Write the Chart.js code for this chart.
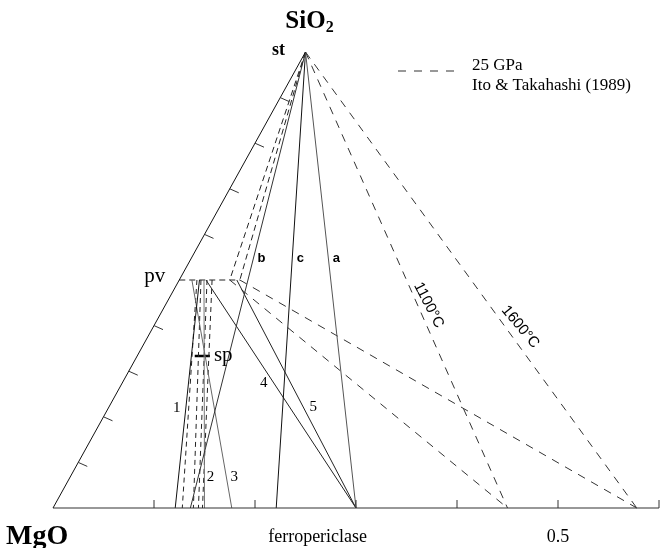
<!DOCTYPE html>
<html><head><meta charset="utf-8">
<script src="https://cdn.jsdelivr.net/npm/chart.js@4/dist/chart.umd.min.js"></script>
<style>html,body{margin:0;padding:0;background:#fff;}#wrap{width:661px;height:548px;}</style>
</head><body><div id="wrap"><canvas id="c" width="661" height="548"></canvas></div>
<script>
// Compositions are [FeO fraction, SiO2 fraction] in the MgO-FeO-SiO2 system
const stSiO2 = 1;
const pvSiO2 = 0.5;
const pvFeORange = [0, 0.06];
const stTieNames = ['a', 'b', 'c'];
const stTieFpFeO = [0.300, 0.136, 0.221];
const runNames = ['1', '2', '3', '4', '5'];
const runPvFeO = [0.020, 0.0245, 0.0125, 0.0265, 0.057];
const runFpFeO = [0.121, 0.150, 0.177, 0.300, 0.300];
const gpa25PvFeO = [0.0175, 0.0215, 0.0275, 0.0325];
const gpa25FpFeO = [0.128, 0.139, 0.144, 0.148];
const isoNames = ['1100°C', '1600°C'];
const isoPvFeO = [0.050, 0.060];
const isoFpFeO = [0.450, 0.578];
const spSiO2 = 1 / 3;
const spFeORange = [0.057, 0.072];
const baseTicks = [0.1, 0.2, 0.3, 0.4, 0.5, 0.6];
const sideTicks = [0.1, 0.2, 0.3, 0.4, 0.6, 0.7, 0.8, 0.9];
const baseLabelValues = [0.5];
const baseLabelTexts = ['0.5'];
const legendTexts = ['25 GPa', 'Ito & Takahashi (1989)'];

// ---- geometry helpers (cartesian = FeO + 0.25*SiO2, SiO2) ----
const toXY = (f, s) => ({ x: f + 0.25 * s, y: s });
function seg(p, q, color, width, dash) {
  return { data: [toXY(p[0], p[1]), toXY(q[0], q[1])], showLine: true, borderColor: color,
    borderWidth: width, borderDash: dash || [], pointRadius: 0, fill: false, tension: 0 };
}
const datasets = [];
datasets.push(seg([0, 0], [0, stSiO2], '#111', 1));
datasets.push(seg([0, 0], [baseTicks[baseTicks.length - 1], 0], '#333', 1.2));
const stColors = ['#555', '#333', '#111'];
stTieFpFeO.forEach((fp, i) => datasets.push(seg([0, stSiO2], [fp, 0], stColors[i], 1)));
const runColors = ['#111', '#777', '#666', '#222', '#222'];
runPvFeO.forEach((pv, i) => datasets.push(seg([pv, pvSiO2], [runFpFeO[i], 0], runColors[i], 1)));
gpa25PvFeO.forEach((pv, i) => datasets.push(seg([pv, pvSiO2], [gpa25FpFeO[i], 0], '#222', 1, [5, 4])));
isoPvFeO.forEach((pv, i) => {
  datasets.push(seg([0, stSiO2], [isoFpFeO[i], 0], '#333', 1, [8, 7]));
  datasets.push(seg([pv, pvSiO2], [isoFpFeO[i], 0], '#333', 1, [8, 7]));
  datasets.push(seg([0, stSiO2], [pv, pvSiO2], '#222', 1, [6, 4]));
});
datasets.push(seg([pvFeORange[0], pvSiO2], [pvFeORange[1], pvSiO2], '#222', 1, [6, 4]));
datasets.push(seg([spFeORange[0], spSiO2], [spFeORange[1], spSiO2], '#000', 2.5));

const SERIF = '"Liberation Serif", "Times New Roman", serif';
const SANS = '"Liberation Sans", Arial, sans-serif';

const decor = {
  id: 'decor',
  afterDatasetsDraw(chart) {
    const ctx = chart.ctx, xs = chart.scales.x, ys = chart.scales.y;
    const P = (f, s) => [xs.getPixelForValue(f + 0.25 * s), ys.getPixelForValue(s)];
    const onLine = (a, b, s) => { const t = (s - a[1]) / (b[1] - a[1]); return P(a[0] + t * (b[0] - a[0]), s); };
    ctx.save();
    // ticks
    ctx.strokeStyle = '#333'; ctx.lineWidth = 1;
    baseTicks.forEach(v => { const [x, y] = P(v, 0); ctx.beginPath(); ctx.moveTo(x, y); ctx.lineTo(x, y - 8); ctx.stroke(); });
    sideTicks.forEach(s => { const [x, y] = P(0, s); ctx.beginPath(); ctx.moveTo(x, y); ctx.lineTo(x + 9, y + 4); ctx.stroke(); });
    ctx.fillStyle = '#000';
    ctx.textBaseline = 'middle';
    // SiO2 apex title
    const [ax, ay] = P(0, stSiO2);
    ctx.font = 'bold 25px ' + SERIF;
    const w1 = ctx.measureText('SiO').width;
    ctx.font = 'bold 16px ' + SERIF;
    const w2 = ctx.measureText('2').width;
    const x0 = ax + 4 - (w1 + w2) / 2;
    ctx.textAlign = 'left';
    ctx.font = 'bold 25px ' + SERIF; ctx.fillText('SiO', x0, ay - 30);
    ctx.font = 'bold 16px ' + SERIF; ctx.fillText('2', x0 + w1, ay - 24);
    ctx.font = 'bold 18px ' + SERIF; ctx.textAlign = 'center'; ctx.fillText('st', ax - 27, ay - 2);
    // MgO corner and base labels
    const [mx, my] = P(0, 0);
    ctx.font = 'bold 28px ' + SERIF; ctx.textAlign = 'left'; ctx.fillText('MgO', mx - 47, my + 29);
    ctx.font = '18px ' + SERIF; ctx.textAlign = 'center';
    ctx.fillText('ferropericlase', P(0.262, 0)[0], my + 29);
    baseLabelValues.forEach((v, i) => ctx.fillText(baseLabelTexts[i], P(v, 0)[0], my + 29));
    // pv, sp
    const [px, py] = P(0, pvSiO2);
    ctx.font = '21px ' + SERIF; ctx.textAlign = 'right'; ctx.fillText('pv', px - 14, py - 4);
    const [sx, sy] = P(spFeORange[1], spSiO2);
    ctx.textAlign = 'left'; ctx.fillText('sp', sx + 4, sy - 1);
    // a, b, c labels
    ctx.font = 'bold 13px ' + SANS; ctx.textAlign = 'center';
    stTieFpFeO.forEach((fp, i) => { const [x, y] = onLine([0, stSiO2], [fp, 0], 0.548); ctx.fillText(stTieNames[i], x + 8, y); });
    // run numbers
    const runLabelS = [0.219, 0.068, 0.068, 0.274, 0.221];
    const runLabelDx = [-9, 6, 8, -10, 10];
    ctx.font = '15px ' + SERIF;
    runNames.forEach((n, i) => { const [x, y] = onLine([runPvFeO[i], pvSiO2], [runFpFeO[i], 0], runLabelS[i]); ctx.fillText(n, x + runLabelDx[i], y); });
    // isotherm labels
    const isoLabelS = [0.445, 0.397];
    const isoLabelDx = [11, 15];
    ctx.font = '15px ' + SANS;
    isoNames.forEach((n, i) => {
      const a = P(0, stSiO2), b = P(isoFpFeO[i], 0);
      const ang = Math.atan2(b[1] - a[1], b[0] - a[0]);
      const [x, y] = onLine([0, stSiO2], [isoFpFeO[i], 0], isoLabelS[i]);
      ctx.save(); ctx.translate(x + isoLabelDx[i], y); ctx.rotate(ang - 0.06); ctx.fillText(n, 0, 0); ctx.restore();
    });
    // legend
    ctx.strokeStyle = '#333'; ctx.setLineDash([8, 8]);
    ctx.beginPath(); ctx.moveTo(398, 71); ctx.lineTo(456, 71); ctx.stroke(); ctx.setLineDash([]);
    ctx.font = '17px ' + SERIF; ctx.textAlign = 'left';
    ctx.fillText(legendTexts[0], 472, 66);
    ctx.fillText(legendTexts[1], 472, 86);
    ctx.restore();
  }
};

new Chart(document.getElementById('c'), {
  type: 'scatter',
  data: { datasets },
  options: {
    responsive: false, animation: false, devicePixelRatio: 1,
    layout: { padding: 0 },
    plugins: { legend: { display: false }, tooltip: { enabled: false } },
    scales: {
      x: { type: 'linear', display: false, min: -53 / 1010, max: 608 / 1010 },
      y: { type: 'linear', display: false, min: -40 / 456, max: 508 / 456 }
    }
  },
  plugins: [decor]
});
</script></body></html>
